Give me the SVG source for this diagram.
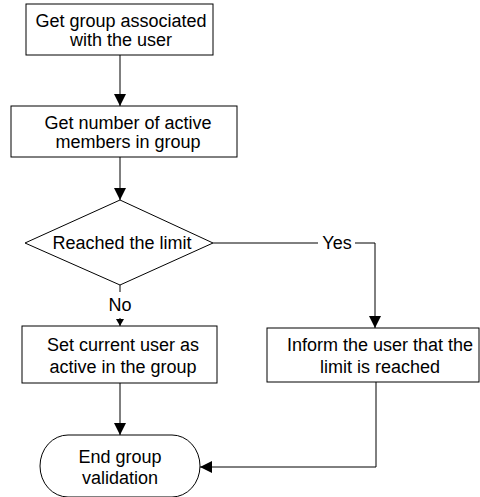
<svg xmlns="http://www.w3.org/2000/svg" width="480" height="497" viewBox="0 0 480 497">
  <defs>
    <marker id="arrow" viewBox="0 0 12 12" refX="12" refY="6" markerWidth="12" markerHeight="12" markerUnits="userSpaceOnUse" orient="auto">
      <path d="M0,0 L12,6 L0,12 Z" fill="#000"/>
    </marker>
    <marker id="arrow-small" viewBox="0 0 7 8" refX="7" refY="4" markerWidth="7" markerHeight="8" markerUnits="userSpaceOnUse" orient="auto">
      <path d="M0,0 L7,4 L0,8 Z" fill="#000"/>
    </marker>
  </defs>
  <style>
    .shape { fill: #fff; stroke: #000; stroke-width: 1; }
    .label { font-family: "Liberation Sans", Arial, sans-serif; font-size: 18px; fill: #000; text-anchor: middle; }
    .edge { fill: none; stroke: #000; stroke-width: 1; }
  </style>
  <rect width="480" height="497" fill="#fff"/>

  <g id="connectors">
    <line class="edge" x1="120" y1="55" x2="120" y2="106" marker-end="url(#arrow)"/>
    <line class="edge" x1="120" y1="157" x2="120" y2="200" marker-end="url(#arrow)"/>
    <line class="edge" x1="120" y1="285" x2="120" y2="292"/>
    <line class="edge" x1="120" y1="318" x2="120" y2="326" marker-end="url(#arrow-small)"/>
    <polyline class="edge" points="213,243 318,243"/>
    <polyline class="edge" points="355,243 375,243 375,328" marker-end="url(#arrow)"/>
    <line class="edge" x1="120" y1="383" x2="120" y2="435" marker-end="url(#arrow)"/>
    <polyline class="edge" points="376,382 376,467 200,467" marker-end="url(#arrow)"/>
    <text class="label" x="120" y="311">No</text>
    <text class="label" x="337" y="249">Yes</text>
  </g>

  <g id="get-group">
    <rect class="shape" x="26" y="4" width="187" height="51"/>
    <text class="label" x="121" y="27">Get group associated</text>
    <text class="label" x="121" y="46">with the user</text>
  </g>

  <g id="count-members">
    <rect class="shape" x="11" y="106" width="226" height="51"/>
    <text class="label" x="128" y="129">Get number of active</text>
    <text class="label" x="128" y="148">members in group</text>
  </g>

  <g id="limit-check">
    <polygon class="shape" points="25,243 120,200 213,243 120,285"/>
    <text class="label" x="122" y="249">Reached the limit</text>
  </g>

  <g id="set-active">
    <rect class="shape" x="22" y="326" width="195" height="57"/>
    <text class="label" x="123" y="351">Set current user as</text>
    <text class="label" x="123" y="373">active in the group</text>
  </g>

  <g id="inform-user">
    <rect class="shape" x="267" y="328" width="212" height="54"/>
    <text class="label" x="380" y="351">Inform the user that the</text>
    <text class="label" x="380" y="373">limit is reached</text>
  </g>

  <g id="end-validation">
    <rect class="shape" x="40" y="435" width="160" height="62" rx="28" ry="31"/>
    <text class="label" x="120" y="463">End group</text>
    <text class="label" x="120" y="484">validation</text>
  </g>
</svg>
